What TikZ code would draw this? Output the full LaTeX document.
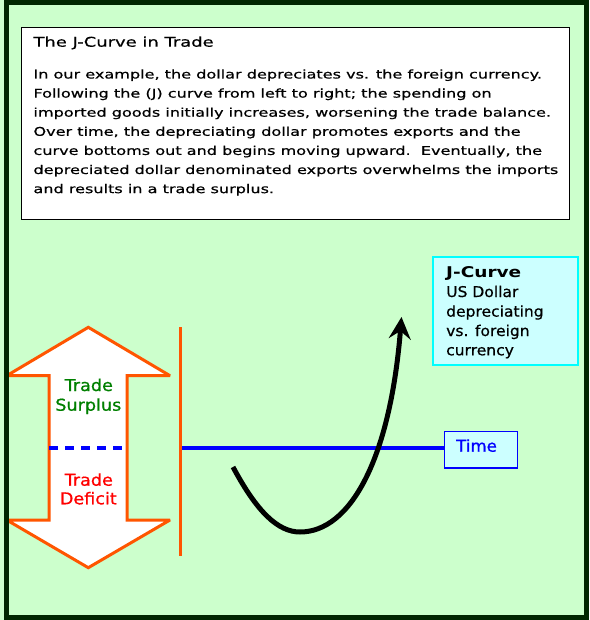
\documentclass[tikz,border=0pt]{standalone}
\usepackage{fontspec}
\usetikzlibrary{arrows.meta}
\newfontfamily\bodyfont[FakeStretch=1.34,FakeBold=0.6]{DejaVu Sans}
\newfontfamily\boxfont[FakeStretch=1.05,FakeBold=0.6]{DejaVu Sans}
\newfontfamily\boxboldfont[FakeStretch=1.25]{DejaVu Sans}
\newfontfamily\labelfont[FakeStretch=1.08,FakeBold=0.8]{DejaVu Sans}
\newfontfamily\timefont[FakeStretch=1.02,FakeBold=0.8]{DejaVu Sans}
\definecolor{bg}{RGB}{204,255,204}
\definecolor{framecol}{RGB}{0,38,0}
\definecolor{orng}{RGB}{255,85,0}
\definecolor{lcyan}{RGB}{204,255,255}
\definecolor{cyanb}{RGB}{0,255,255}
\definecolor{tgreen}{RGB}{0,128,0}
\tikzset{
  bodyline/.style={anchor=base west, inner sep=0pt, text=black, font=\bodyfont\fontsize{12}{14}\selectfont},
  jline/.style={anchor=base west, inner sep=0pt, text=black, font=\boxfont\fontsize{14.8}{17}\selectfont},
  tradelbl/.style={anchor=base, inner sep=0pt, font=\labelfont\fontsize{16.3}{19}\selectfont},
}
\begin{document}
\begin{tikzpicture}[x=1pt,y=-1pt]
\fill[bg] (0,0) rectangle (589,620);
\useasboundingbox (0,0) rectangle (589,620);

% text box
\node[draw=black, fill=white, line width=1pt, minimum width=548pt, minimum height=192pt,
      anchor=north west, inner sep=0pt] (textbox) at (21,27) {};
\node[anchor=base west, inner sep=0pt, font=\bodyfont\fontsize{13.4}{15}\selectfont] (title) at (33.3,46.7) {The J-Curve in Trade};
\node[bodyline] (b1) at (33.3,78.5) {In our example, the dollar depreciates vs. the foreign currency.};
\node[bodyline] (b2) at (33.3,97.6) {Following the (J) curve from left to right; the spending on};
\node[bodyline] (b3) at (33.3,116.7) {imported goods initially increases, worsening the trade balance.};
\node[bodyline] (b4) at (33.3,135.8) {Over time, the depreciating dollar promotes exports and the};
\node[bodyline] (b5) at (33.3,154.9) {curve bottoms out and begins moving upward.\ \ Eventually, the};
\node[bodyline] (b6) at (33.3,174.0) {depreciated dollar denominated exports overwhelms the imports};
\node[bodyline] (b7) at (33.3,193.1) {and results in a trade surplus.};

% J-curve legend box
\node[draw=cyanb, fill=lcyan, line width=2pt, minimum width=145pt, minimum height=108pt,
      anchor=north west, inner sep=0pt] (jbox) at (432,256) {};
\node[anchor=base west, inner sep=0pt, font=\boxboldfont\bfseries\fontsize{14.8}{17}\selectfont] (j1) at (446,277.3) {J-Curve};
\node[jline] (j2) at (446,297.0) {US Dollar};
\node[jline] (j3) at (446,316.6) {depreciating};
\node[jline] (j4) at (446,336.0) {vs. foreign};
\node[jline] (j5) at (446,355.3) {currency};

% time box and axis
\node[draw=blue, fill=lcyan, line width=1.3pt, minimum width=72.7pt, minimum height=36.3pt,
      anchor=north west, inner sep=0pt] (time) at (444,431) {};
\node[anchor=base west, inner sep=0pt, text=blue, font=\timefont\fontsize{16.3}{19}\selectfont] (timelbl) at (456,451.7) {Time};
\coordinate (origin) at (180.3,447.7);
\draw[blue, line width=4pt] (origin) -- (origin -| time.west);

% orange vertical line
\coordinate (vtop) at (180.3,327);
\coordinate (vbot) at (180.3,556);
\draw[orng, line width=3pt] (vtop) -- (vbot);

% double-headed arrow
\draw[orng, fill=white, line width=3pt, miter limit=2]
  (88.3,327.3) -- (170,375.7) -- (127,375.7) -- (127,520) -- (170,520) -- (88.3,567.7)
  -- (6.7,520) -- (49,520) -- (49,375.7) -- (6.7,375.7) -- cycle;
\coordinate (dl) at (49,447.7);
\coordinate (dr) at (127,447.7);
\draw[blue, line width=4pt, dash pattern=on 9pt off 7pt] (dl) -- (dr);
\node[tradelbl, text=tgreen] (s1) at (88.8,391) {Trade};
\node[tradelbl, text=tgreen] (s2) at (88.3,410.7) {Surplus};
\node[tradelbl, text=red] (d1) at (88.8,485.7) {Trade};
\node[tradelbl, text=red] (d2) at (88.3,504.3) {Deficit};

% J curve
\coordinate (jstart) at (233,467);
\coordinate (jlow) at (300,532);
\coordinate (jtip) at (401.5,317);
\draw[black, line width=5pt, -{Stealth[length=22pt,width=22pt,inset=8pt]}]
  (jstart) .. controls (257,512) and (278,532) .. (jlow)
  .. controls (350,532) and (390,460) .. (jtip);

% outer frame
\draw[framecol, line width=5pt] (6.5,2.8) rectangle (586.7,617.6);
\end{tikzpicture}
\end{document}
